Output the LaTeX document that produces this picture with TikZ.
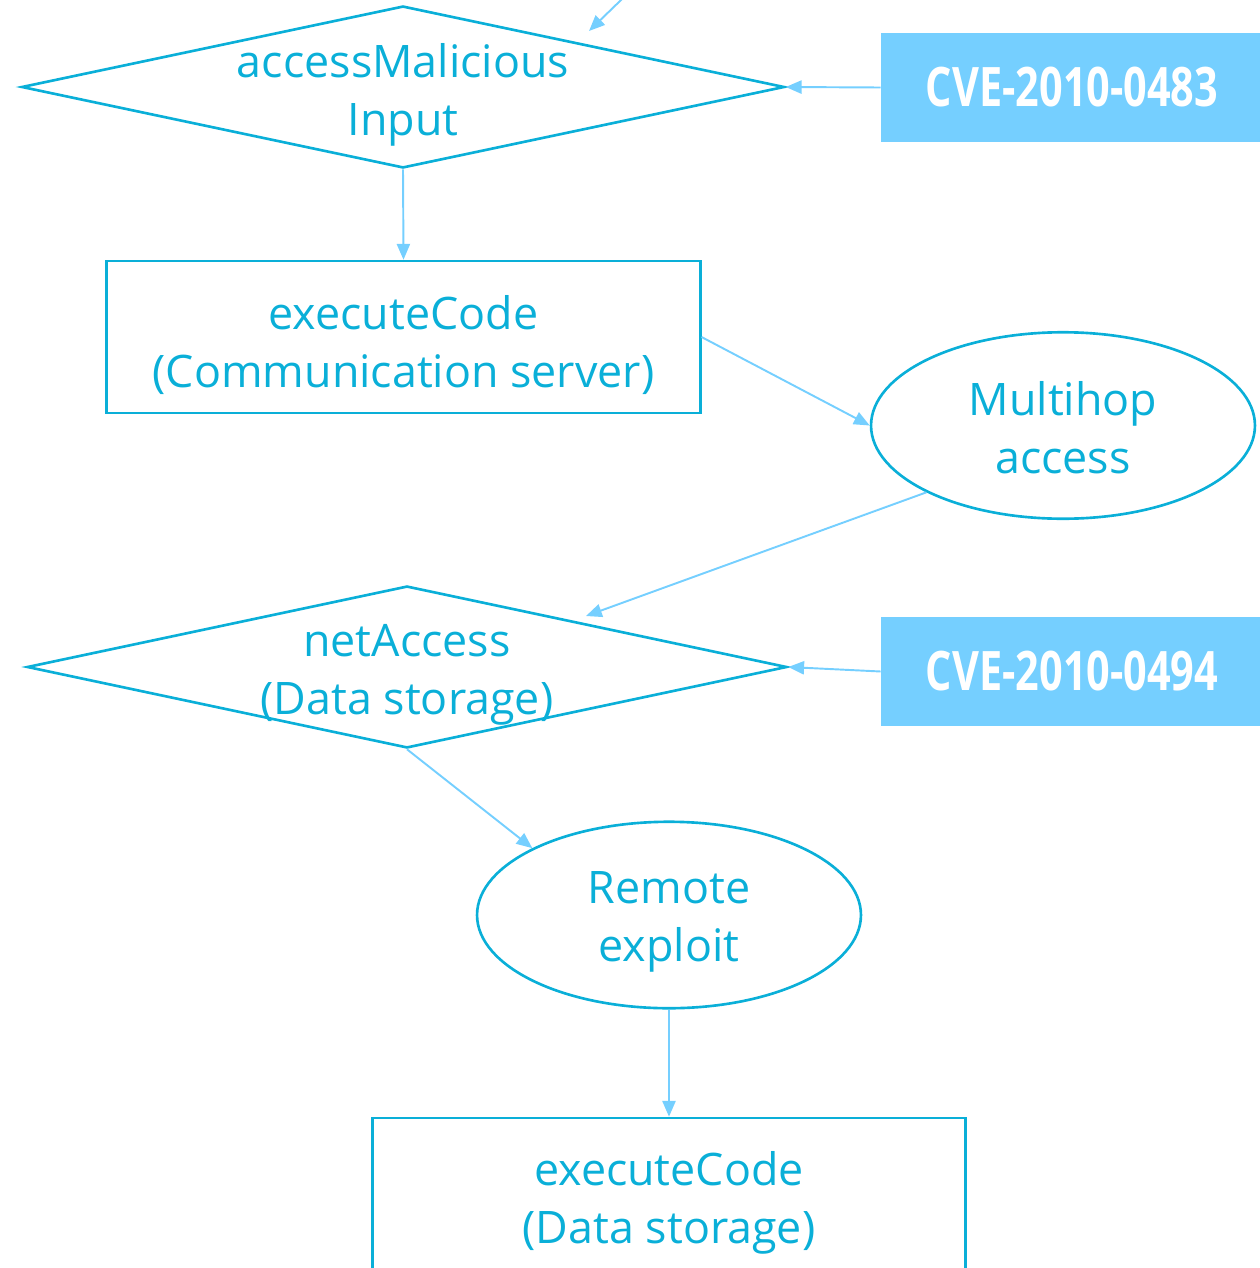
\documentclass[tikz,border=0pt]{standalone}
\usepackage{fontspec}
\setmainfont{Open Sans}
\usetikzlibrary{shapes.geometric,arrows.meta}
\definecolor{shapecol}{HTML}{0AAFD8}
\definecolor{arrcol}{HTML}{75CFFF}
\tikzset{
  lbl/.style={text=shapecol,align=center,font=\fontsize{25.5}{32.9}\selectfont,inner sep=0},
  dia/.style={diamond,draw=shapecol,line width=1.5pt,inner sep=0,minimum width=15.2cm,minimum height=3.24cm},
  box/.style={rectangle,draw=shapecol,line width=1.5pt,inner sep=0,minimum width=11.87cm,minimum height=3.04cm},
  ell/.style={ellipse,draw=shapecol,line width=1.5pt,inner sep=0,minimum width=7.68cm,minimum height=3.73cm},
  cve/.style={rectangle,fill=arrcol,minimum width=7.64cm,minimum height=2.18cm,text=white,inner sep=0,
    font=\fontsize{31}{36}\selectfont\bfseries},
  conn/.style={draw=arrcol,line width=1.1pt,-{Triangle[length=9pt,width=7.5pt]}}
}
\begin{document}
\begin{tikzpicture}[x=0.02cm,y=-0.02cm]
\useasboundingbox (0,0) rectangle (1260,1268);
\clip (0,0) rectangle (1260,1268);
% shapes
\node[dia,minimum width=15.26cm] (d1) at (403,87) {};
\node[cve] (c1) at (1072,87.5) {\scalebox{0.76}[1]{CVE-2010-0483}};
\node[box] (r1) at (403.5,337) {};
\node[ell] (e1) at (1063,425.5) {};
\node[dia] (d2) at (407,667) {};
\node[cve] (c2) at (1072,671.5) {\scalebox{0.76}[1]{CVE-2010-0494}};
\node[ell] (e2) at (669,915) {};
\node[box] (r2) at (669,1194) {};
% texts
\node[lbl] (t1) at (403,95) {accessMalicious\\Input};
\node[lbl] (t3) at (403.5,345) {executeCode\\(Communication server)};
\node[lbl] (t4) at (1063,428) {Multihop\\access};
\node[lbl] (t2) at (407,675) {netAccess\\(Data storage)};
\node[lbl] (t5) at (669,922) {Remote\\exploit};
\node[lbl] (t6) at (669,1203) {executeCode\\(Data storage)};
% connector ends
\coordinate (top) at (652,-30);
\coordinate (d1in) at (589,31);
\coordinate (d2in) at (586,616);
% connectors
\draw[conn] (top) -- (d1in);
\draw[conn] (c1.west) -- (d1.east);
\draw[conn] (d1.south) -- (r1.north);
\draw[conn] (r1.east) -- (e1.west);
\draw[conn] (e1.south west) -- (d2in);
\draw[conn] (c2.west) -- (d2.east);
\draw[conn] (d2.south) -- (e2.north west);
\draw[conn] (e2.south) -- (r2.north);
\end{tikzpicture}
\end{document}
